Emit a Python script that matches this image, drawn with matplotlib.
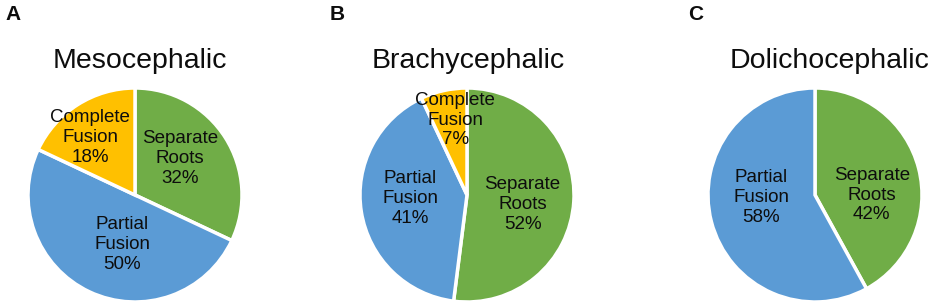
import matplotlib
matplotlib.use("Agg")
import matplotlib.pyplot as plt

plt.rcParams['font.family'] = ['Liberation Sans', 'DejaVu Sans']

# ---- data ----
titles = ["Mesocephalic", "Brachycephalic", "Dolichocephalic"]
panel_letters = ["A", "B", "C"]
labels_A = ["Separate\nRoots", "Partial\nFusion", "Complete\nFusion"]
values_A = [32, 50, 18]
labels_B = ["Separate\nRoots", "Partial\nFusion", "Complete\nFusion"]
values_B = [52, 41, 7]
labels_C = ["Separate\nRoots", "Partial\nFusion"]
values_C = [42, 58]

colors = {"Separate\nRoots": "#70AD47", "Partial\nFusion": "#5B9BD5",
          "Complete\nFusion": "#FFC000"}

# ---- layout (pixels / radius units) ----
W, H = 935, 306
R = 107
centers = [(135, 195), (467, 195), (815, 195)]
label_pos = [
    [(0.42, 0.34), (-0.12, -0.46), (-0.42, 0.54)],
    [(0.52, -0.09), (-0.53, -0.03), (-0.11, 0.70)],
    [(0.53, 0.0), (-0.50, -0.02)],
]
title_x = [140, 468, 830]
title_base_y = 68
letter_x = [5, 330, 688]

fig = plt.figure(figsize=(W / 100, H / 100), dpi=100)

data = [(labels_A, values_A), (labels_B, values_B), (labels_C, values_C)]
M = 1.15
for i, (labs, vals) in enumerate(data):
    cx, cy = centers[i]
    half = R * M
    ax = fig.add_axes([(cx - half) / W, (H - cy - half) / H, 2 * half / W, 2 * half / H])
    wedges, _ = ax.pie(vals, colors=[colors[l] for l in labs], startangle=90,
                       counterclock=False, radius=1.0,
                       wedgeprops=dict(edgecolor="white", linewidth=2.5))
    ax.set_xlim(-M, M)
    ax.set_ylim(-M, M)
    ax.set_aspect("equal")
    ax.axis("off")
    for lab, v, (px, py) in zip(labs, vals, label_pos[i]):
        ax.text(px, py, f"{lab}\n{v}%", ha="center", va="center",
                fontsize=13.5, color="#0d0d0d", linespacing=1.22)
    fig.text(title_x[i] / W, 1 - title_base_y / H, titles[i], ha="center",
             va="baseline", fontsize=20.5, color="#0d0d0d")
    fig.text(letter_x[i] / W, 1 - 15 / H, panel_letters[i], ha="left",
             va="center", fontsize=15, fontweight="bold", color="#0d0d0d")

fig.savefig("out.png", dpi=100)
